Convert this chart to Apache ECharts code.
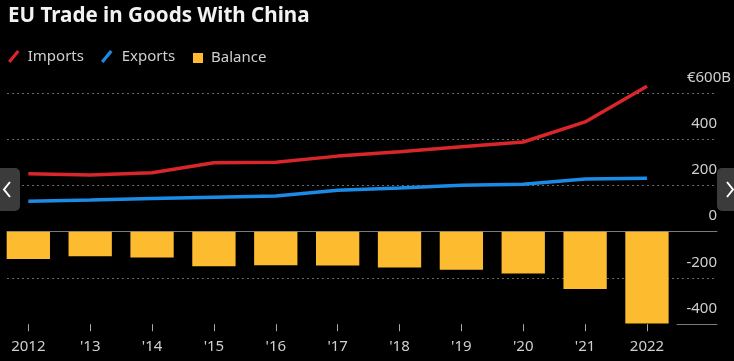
<!DOCTYPE html>
<html>
<head>
<meta charset="utf-8">
<script src="https://cdn.jsdelivr.net/npm/echarts@6/dist/echarts.min.js"></script>
<style>
html,body{margin:0;padding:0;background:#000;}
#chart{width:734px;height:361px;}
</style>
</head>
<body>
<div id="chart"></div>
<script>
const categories = ['2012', "'13", "'14", "'15", "'16", "'17", "'18", "'19", "'20", "'21", '2022'];
const imports = [251, 245, 255, 298, 300, 327, 346, 367, 388, 475, 629];
const exports = [132, 137, 144, 149, 154, 179, 189, 201, 205, 228, 231];
const balance = [-118, -106, -111, -149, -145, -146, -155, -165, -181, -248, -397];
const yMin = -400, yMax = 600, yStep = 200;

const FONT = 'Noto Sans';
const LABEL = '#cfcfcf';
const chart = echarts.init(document.getElementById('chart'), null, {renderer: 'canvas'});

const slash = 'path://M0,11 L9,0 L11.5,2 L2.5,13 Z';

chart.setOption({
  backgroundColor: '#000',
  animation: false,
  textStyle: {fontFamily: FONT},
  title: {
    text: 'EU Trade in Goods With China',
    left: 8, top: 6, padding: 0,
    textStyle: {color: '#f2f2f2', fontSize: 20.6, fontWeight: 'bold', fontFamily: FONT}
  },
  legend: [
    {left: 8, top: 49, itemWidth: 14, itemHeight: 13, itemGap: 0, padding: 0,
     data: [{name: 'Imports', icon: slash, itemStyle: {color: '#d8262b'}}],
     textStyle: {color: LABEL, fontSize: 15, fontFamily: FONT, padding: [0, 0, 0, 2]}},
    {left: 101, top: 49, itemWidth: 14, itemHeight: 13, itemGap: 0, padding: 0,
     data: [{name: 'Exports', icon: slash, itemStyle: {color: '#1c8be6'}}],
     textStyle: {color: LABEL, fontSize: 15, fontFamily: FONT, padding: [0, 0, 0, 3]}},
    {left: 193, top: 50.5, itemWidth: 10, itemHeight: 10, itemGap: 0, padding: 0,
     data: [{name: 'Balance', icon: 'rect', itemStyle: {color: '#fdbb30'}}],
     textStyle: {color: LABEL, fontSize: 15, fontFamily: FONT, padding: [0, 0, 0, 3]}}
  ],
  grid: [
    {left: -2.6, right: 56.1, top: 93, bottom: 36.8, outerBoundsMode: 'none'},
    {left: 7, right: 17, top: 93, bottom: 36.8, outerBoundsMode: 'none'},
    {left: 677, right: 17, top: 93, bottom: 36.8, outerBoundsMode: 'none'}
  ],
  xAxis: [
    {gridIndex: 0, type: 'category', data: categories, boundaryGap: true, position: 'bottom',
     axisLine: {show: true, onZero: false, lineStyle: {color: 'rgba(0,0,0,0)'}},
     axisTick: {show: true, alignWithLabel: true, length: 7, lineStyle: {color: '#aaa', width: 1}},
     axisLabel: {color: LABEL, fontSize: 15, margin: 15, fontFamily: FONT, interval: 0},
     splitLine: {show: false}},
    {gridIndex: 1, type: 'value', min: 0, max: 1,
     axisLine: {show: true, onZero: true, lineStyle: {color: '#7a7a7a', width: 1}},
     axisTick: {show: false}, axisLabel: {show: false}, splitLine: {show: false}},
    {gridIndex: 2, type: 'value', min: 0, max: 1, position: 'bottom',
     axisLine: {show: true, onZero: false, lineStyle: {color: '#7a7a7a', width: 1}},
     axisTick: {show: false}, axisLabel: {show: false}, splitLine: {show: false}}
  ],
  yAxis: [
    {gridIndex: 0, type: 'value', min: yMin, max: yMax, interval: yStep, show: false},
    {gridIndex: 1, type: 'value', min: yMin, max: yMax, interval: yStep, position: 'right',
     axisLine: {show: false}, axisTick: {show: false},
     splitLine: {show: true, showMinLine: false, lineStyle: {color: '#6a6a6a', type: [2, 3], width: 1}},
     axisLabel: {
       show: true, inside: false, align: 'right', verticalAlign: 'bottom', margin: 14,
       padding: [0, 0, 8, 0],
       color: LABEL, fontSize: 15, fontFamily: FONT,
       formatter: function (v) { return v === yMax ? '{a|€' + v + 'B}' : '{b|' + v + '}'; },
       rich: {
         a: {color: LABEL, fontSize: 15, fontFamily: FONT},
         b: {color: LABEL, fontSize: 15, fontFamily: FONT, padding: [0, 14, 0, 0]}
       }
     }},
    {gridIndex: 2, type: 'value', min: yMin, max: yMax, show: false}
  ],
  series: [
    {name: 'Balance', type: 'bar', xAxisIndex: 0, yAxisIndex: 0, data: balance,
     barWidth: '70%', itemStyle: {color: '#fdbb30'}, z: 2},
    {name: 'Imports', type: 'line', xAxisIndex: 0, yAxisIndex: 0, data: imports, clip: false,
     showSymbol: false, symbol: 'none', lineStyle: {color: '#d8262b', width: 3.5}, itemStyle: {color: '#d8262b'}, z: 3},
    {name: 'Exports', type: 'line', xAxisIndex: 0, yAxisIndex: 0, data: exports, clip: false,
     showSymbol: false, symbol: 'none', lineStyle: {color: '#1c8be6', width: 3.5}, itemStyle: {color: '#1c8be6'}, z: 3}
  ],
  graphic: [
    {type: 'rect', left: -6, top: 168, shape: {width: 26, height: 43, r: 5}, style: {fill: '#3b3b3b'}, z: 100},
    {type: 'polyline', shape: {points: [[10, 182], [4, 189.5], [10, 197]]},
     style: {stroke: '#fff', lineWidth: 2, fill: null}, z: 101},
    {type: 'rect', left: 717, top: 168, shape: {width: 26, height: 43, r: 5}, style: {fill: '#3b3b3b'}, z: 100},
    {type: 'polyline', shape: {points: [[727, 182], [733, 189.5], [727, 197]]},
     style: {stroke: '#fff', lineWidth: 2, fill: null}, z: 101}
  ]
});
</script>
</body>
</html>
